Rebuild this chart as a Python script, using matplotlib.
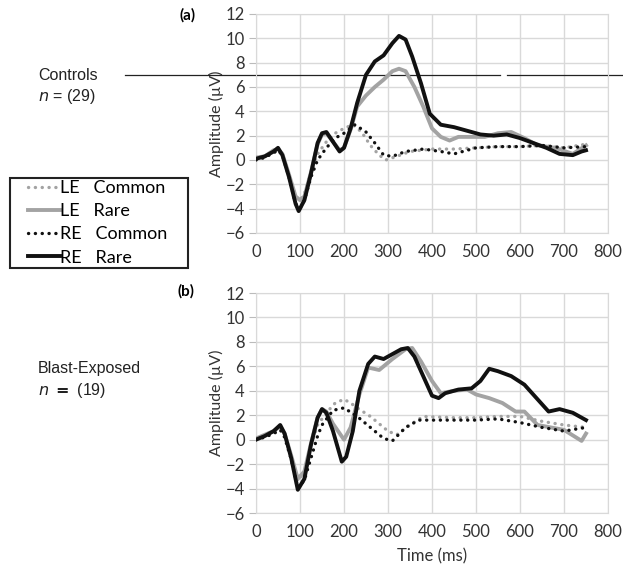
import numpy as np
import matplotlib as mpl
mpl.use('Agg')
import matplotlib.pyplot as plt
from matplotlib.lines import Line2D
from matplotlib.patches import Rectangle

# ~ DATA ~ (time in ms, amplitude in uV)
ctrl_le_common_t = [0, 20, 40, 50, 60, 75, 90, 100, 110, 125, 140, 160, 180, 200, 220, 240, 260, 280, 295,
                    320, 350, 400, 450, 500, 550, 600, 650, 700, 750]
ctrl_le_common_v = [0.1, 0.3, 0.6, 0.8, 0.4, -1.2, -3.0, -3.3, -2.8, -1.0, 0.5, 1.5, 2.2, 2.6, 2.9, 2.3, 1.2,
                    0.4, 0.0, 0.3, 0.7, 0.9, 0.9, 1.0, 1.1, 1.1, 1.2, 1.0, 1.3]

ctrl_le_rare_t = [0, 20, 40, 50, 60, 75, 90, 100, 110, 125, 140, 150, 160, 175, 190, 200, 215, 230, 250, 270,
                  290, 310, 325, 340, 360, 380, 400, 420, 440, 460, 490, 520, 550, 580, 610, 640, 680, 720, 750]
ctrl_le_rare_v = [0.2, 0.3, 0.8, 0.9, 0.5, -1.2, -3.0, -3.3, -3.0, -1.0, 1.3, 2.1, 2.2, 1.5, 0.8, 1.0, 2.5,
                  4.4, 5.3, 6.0, 6.6, 7.3, 7.5, 7.3, 6.0, 4.4, 2.6, 1.9, 1.6, 1.9, 1.9, 1.9, 2.2, 2.3, 1.8,
                  1.2, 1.0, 0.5, 1.2]

ctrl_re_common_t = [0, 20, 40, 50, 60, 75, 90, 100, 110, 125, 140, 160, 180, 200, 225, 250, 270, 290, 310,
                    340, 380, 420, 450, 500, 550, 600, 650, 700, 750]
ctrl_re_common_v = [0.0, 0.2, 0.6, 0.8, 0.4, -1.4, -3.6, -4.0, -3.3, -1.4, 0.0, 1.0, 1.8, 2.2, 2.9, 2.3, 1.4,
                    0.4, 0.3, 0.7, 0.9, 0.7, 0.5, 1.0, 1.1, 1.1, 1.2, 1.0, 1.1]

ctrl_re_rare_t = [0, 20, 40, 50, 60, 75, 90, 97, 110, 125, 140, 150, 160, 175, 190, 200, 215, 230, 250, 270,
                  290, 310, 325, 340, 355, 375, 395, 420, 450, 480, 510, 540, 570, 600, 630, 660, 690, 720,
                  740, 750]
ctrl_re_rare_v = [0.1, 0.3, 0.7, 1.0, 0.4, -1.4, -3.6, -4.2, -3.3, -1.1, 1.4, 2.2, 2.3, 1.5, 0.7, 1.0, 2.6,
                  4.7, 7.0, 8.1, 8.6, 9.6, 10.2, 9.9, 8.5, 6.3, 3.8, 2.9, 2.7, 2.4, 2.1, 2.0, 2.1, 1.8, 1.4,
                  1.0, 0.5, 0.4, 0.7, 0.8]

blast_le_common_t = [0, 20, 40, 55, 65, 80, 95, 110, 125, 140, 160, 180, 200, 215, 230, 260, 300, 320, 350,
                     380, 450, 500, 550, 600, 650, 700, 750]
blast_le_common_v = [0.1, 0.4, 0.7, 1.0, 0.4, -1.4, -3.4, -2.6, -0.5, 1.2, 2.2, 3.0, 3.3, 3.0, 2.6, 1.9, 0.7,
                     0.4, 1.2, 1.9, 1.8, 1.8, 1.9, 1.9, 1.5, 1.2, 1.0]

blast_le_rare_t = [0, 20, 40, 55, 65, 80, 95, 110, 125, 140, 150, 160, 175, 200, 215, 235, 255, 280, 310, 340,
                   355, 375, 400, 420, 450, 480, 500, 530, 560, 590, 610, 640, 670, 700, 740, 750]
blast_le_rare_v = [0.1, 0.4, 0.7, 1.1, 0.5, -1.3, -3.2, -2.6, -0.3, 1.8, 2.5, 2.3, 1.3, 0.0, 1.0, 3.7, 5.9,
                   5.7, 6.6, 7.4, 7.5, 6.4, 4.8, 3.8, 4.0, 4.1, 3.7, 3.4, 3.0, 2.3, 2.3, 1.2, 1.0, 0.8,
                   -0.1, 0.5]

blast_re_common_t = [0, 20, 40, 55, 65, 80, 95, 110, 125, 140, 150, 175, 200, 230, 260, 290, 310, 340, 370,
                     400, 450, 500, 550, 600, 650, 700, 750]
blast_re_common_v = [0.0, 0.2, 0.5, 0.8, 0.2, -1.6, -4.0, -3.3, -1.5, 0.3, 1.2, 2.4, 2.6, 1.9, 1.0, 0.1,
                     -0.1, 1.0, 1.6, 1.6, 1.6, 1.6, 1.7, 1.4, 1.0, 0.7, 1.0]

blast_re_rare_t = [0, 20, 40, 55, 65, 80, 95, 110, 125, 140, 150, 160, 175, 195, 205, 220, 235, 255, 270, 290,
                   310, 330, 345, 360, 380, 400, 415, 430, 460, 490, 510, 530, 550, 580, 610, 640, 665, 690,
                   720, 750]
blast_re_rare_v = [0.0, 0.3, 0.7, 1.2, 0.5, -1.5, -4.1, -3.2, -0.4, 1.8, 2.5, 2.2, 0.7, -1.8, -1.4, 0.7, 4.0,
                   6.2, 6.8, 6.6, 7.0, 7.4, 7.5, 6.8, 5.2, 3.6, 3.4, 3.8, 4.1, 4.2, 4.8, 5.8, 5.6, 5.2, 4.5,
                   3.3, 2.3, 2.5, 2.2, 1.6]

x_ticks = [0, 100, 200, 300, 400, 500, 600, 700, 800]
y_ticks = [-6, -4, -2, 0, 2, 4, 6, 8, 10, 12]

GRAY = '#a3a3a3'
BLACK = '#111111'
DOTS = (0, (0.05, 2.0))
series_styles = {
    'le_common': dict(color=GRAY, lw=2.4, ls=DOTS, dash_capstyle='round'),
    'le_rare': dict(color=GRAY, lw=2.8, ls='-'),
    're_common': dict(color=BLACK, lw=2.4, ls=DOTS, dash_capstyle='round'),
    're_rare': dict(color=BLACK, lw=2.8, ls='-'),
}

plt.rcParams['font.family'] = ['Lato', 'DejaVu Sans']

fig = plt.figure(figsize=(6.23, 5.72), dpi=100)
ax_a = fig.add_axes([256 / 623, 1 - 233 / 572, 352 / 623, 219 / 572])
ax_b = fig.add_axes([256 / 623, 1 - 513 / 572, 352 / 623, 220 / 572])


def draw_panel(ax, data):
    for key, (t, v) in data.items():
        ax.plot(t, v, zorder=3, **series_styles[key])
    ax.set_xlim(0, 800)
    ax.set_ylim(-6, 12)
    ax.set_xticks(x_ticks)
    ax.set_yticks(y_ticks)
    ax.grid(True, color='#d9d9d9', lw=1.0)
    ax.set_axisbelow(True)
    for s in ax.spines.values():
        s.set_color('#d9d9d9')
    ax.tick_params(axis='x', length=0, labelsize=12, pad=8, colors='#333333')
    ax.tick_params(axis='y', length=5, color='#bbbbbb', labelsize=12, pad=3, colors='#333333')
    ax.set_ylabel('Amplitude (µV)', fontsize=11.5, labelpad=1, color='#333333')


draw_panel(ax_a, {
    'le_common': (ctrl_le_common_t, ctrl_le_common_v),
    'le_rare': (ctrl_le_rare_t, ctrl_le_rare_v),
    're_common': (ctrl_re_common_t, ctrl_re_common_v),
    're_rare': (ctrl_re_rare_t, ctrl_re_rare_v),
})
draw_panel(ax_b, {
    'le_common': (blast_le_common_t, blast_le_common_v),
    'le_rare': (blast_le_rare_t, blast_le_rare_v),
    're_common': (blast_re_common_t, blast_re_common_v),
    're_rare': (blast_re_rare_t, blast_re_rare_v),
})
ax_b.set_xlabel('Time (ms)', fontsize=12, color='#333333', labelpad=6)

# stray horizontal rule across the top panel at 7 uV
ax_a.axhline(7, xmin=-131 / 352, xmax=244 / 352, color='#222222', lw=0.9, clip_on=False, zorder=2)
ax_a.axhline(7, xmin=251 / 352, xmax=367 / 352, color='#222222', lw=0.9, clip_on=False, zorder=2)

# panel letters and group labels
fig.text(180 / 623, 1 - 15 / 572, '(a)', fontsize=11, fontweight='bold', ha='left', va='center')
fig.text(178 / 623, 1 - 291 / 572, '(b)', fontsize=11, fontweight='bold', ha='left', va='center')

fig.text(38 / 623, 1 - 75 / 572, 'Controls', fontsize=11.5, family='Liberation Sans', va='center',
         color='#222222')
fig.text(38 / 623, 1 - 96 / 572, r'$\it{n}$ = (29)', fontsize=11.5, family='Liberation Sans',
         va='center', color='#222222')
fig.text(38 / 623, 1 - 368 / 572, 'Blast-Exposed', fontsize=11.5, family='Liberation Sans', va='center',
         color='#222222')
fig.text(38 / 623, 1 - 390 / 572, r'$\it{n}$ $\bf{=}$ (19)', fontsize=11.5, family='Liberation Sans',
         va='center', color='#222222')

# legend: framed box drawn separately so its size matches the reference
fig.add_artist(Rectangle((10 / 623, 1 - 268 / 572), 178 / 623, 90 / 572, transform=fig.transFigure,
                         fill=False, edgecolor='#222222', lw=1.5))
handles = [Line2D([], [], **series_styles[k]) for k in ['le_common', 'le_rare', 're_common', 're_rare']]
labels = ['LE   Common', 'LE   Rare', 'RE   Common', 'RE   Rare']
fig.legend(handles, labels, loc='upper left', bbox_to_anchor=(28 / 623, 1 - 180 / 572),
           frameon=False, fontsize=13, handlelength=1.75, handletextpad=0.05, labelspacing=0.4,
           borderpad=0, borderaxespad=0)

fig.savefig('out.png', dpi=100)
